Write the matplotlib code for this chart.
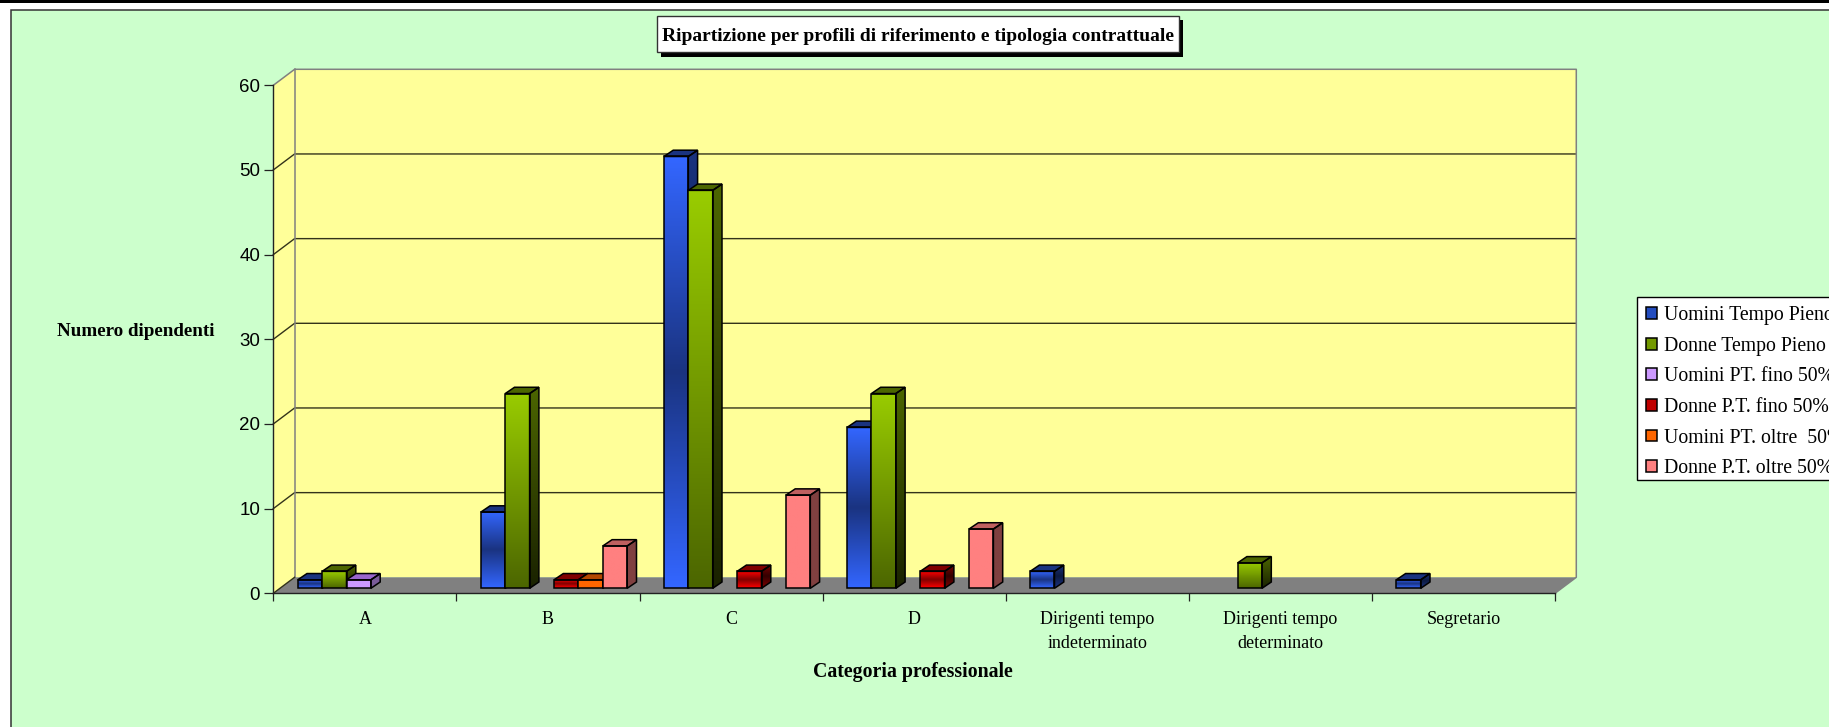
import matplotlib
matplotlib.use("Agg")
import matplotlib.pyplot as plt
import numpy as np
from matplotlib.colors import LinearSegmentedColormap
from matplotlib.patches import Patch, Polygon, Rectangle
from matplotlib.transforms import Affine2D

W, H = 1829, 727

categories = ["A", "B", "C", "D", "Dirigenti tempo\nindeterminato", "Dirigenti tempo\ndeterminato", "Segretario"]
series_names = ["Uomini Tempo Pieno", "Donne Tempo Pieno", "Uomini PT. fino 50%",
                "Donne P.T. fino 50%", "Uomini PT. oltre  50%", "Donne P.T. oltre 50%"]
uomini_tp = [1, 9, 51, 19, 2, 0, 1]
donne_tp = [2, 23, 47, 23, 0, 3, 0]
uomini_pt_fino = [1, 0, 0, 0, 0, 0, 0]
donne_pt_fino = [0, 1, 2, 2, 0, 0, 0]
uomini_pt_oltre = [0, 1, 0, 0, 0, 0, 0]
donne_pt_oltre = [0, 5, 11, 7, 0, 0, 0]
y_ticks = [0, 10, 20, 30, 40, 50, 60]

# colour stops top -> bottom for front, side; plus flat top face and legend swatch
front_stops = [["#3366FF", "#1A3380", "#3366FF"], ["#99CC00", "#4C6600"], ["#CC99FF", "#CC99FF"],
               ["#FF0000", "#800000", "#FF0000"], ["#FF6600", "#FF6600"], ["#FF8080", "#FF8080"]]
side_stops = [["#1A3380", "#0D1A40", "#1A3380"], ["#4C6600", "#1A2200"], ["#7A5C99", "#7A5C99"],
              ["#800000", "#330000", "#800000"], ["#803300", "#803300"], ["#804040", "#804040"]]
top_colors = ["#1A3380", "#4C6600", "#9966CC", "#800000", "#B34700", "#BF6060"]
legend_colors = ["#234DBF", "#739900", "#CC99FF", "#BF0000", "#FF6600", "#FF8080"]

plt.rcParams["font.family"] = ["Liberation Serif"]
fig = plt.figure(figsize=(W / 100, H / 100), dpi=100, facecolor="white")
px = Affine2D().scale(1 / W, -1 / H).translate(0, 1) + fig.transFigure

# chart area and the strip above it
fig.add_artist(Rectangle((11, 10), W, H, transform=px, fc="#CCFFCC", ec="#333333", lw=1.1, zorder=-2))
fig.add_artist(Rectangle((0, 0), W, 3, transform=px, fc="black", ec="none", zorder=-1))

x_left, x_right, y_zero, y_top = 273.3, 1555, 593.3, 85.3
ax = fig.add_axes([x_left / W, 1 - y_zero / H, (x_right - x_left) / W, (y_zero - y_top) / H])
ax.patch.set_visible(False)
n_cat = len(categories)
px_x = (x_right - x_left) / n_cat
px_y = (y_zero - y_top) / 60

# 3D wall / floor depth
wall_dx, wall_dy = 21.3 / px_x, 16 / px_y
ax.fill([0, wall_dx, n_cat + wall_dx, n_cat + wall_dx, wall_dx, 0],
        [0, wall_dy, wall_dy, 60 + wall_dy, 60 + wall_dy, 60],
        fc="#FFFF99", ec="none", clip_on=False, zorder=0.1)
ax.fill([0, n_cat, n_cat + wall_dx, wall_dx], [0, 0, wall_dy, wall_dy],
        fc="#808080", ec="none", clip_on=False, zorder=0.2)
for v in y_ticks[1:-1]:
    ax.plot([0, wall_dx, n_cat + wall_dx], [v, v + wall_dy, v + wall_dy], color="#33331A", lw=1.0,
            clip_on=False, zorder=0.3)
ax.plot([0, wall_dx, n_cat + wall_dx, n_cat + wall_dx, n_cat],
        [60, 60 + wall_dy, 60 + wall_dy, wall_dy, 0], color="#808080", lw=1.1, clip_on=False, zorder=0.4)
ax.plot([wall_dx, wall_dx], [wall_dy, 60 + wall_dy], color="#808080", lw=1.1, clip_on=False, zorder=0.4)
ax.plot([0, wall_dx], [0, wall_dy], color="#33331A", lw=1.0, clip_on=False, zorder=0.4)

# bars
slot = 24.4 / px_x
first = 24.4 / px_x
base = 5 / px_y
bar_dx, bar_dy = 9.3 / px_x, 6.3 / px_y
all_series = [uomini_tp, donne_tp, uomini_pt_fino, donne_pt_fino, uomini_pt_oltre, donne_pt_oltre]
gradient = np.linspace(0, 1, 128)[:, None]
z = 1.0
for c in range(n_cat):
    for s, values in enumerate(all_series):
        v = values[c]
        if v == 0:
            continue
        x0 = c + first + s * slot
        x1 = x0 + slot
        y0, y1 = base, base + v
        front_cmap = LinearSegmentedColormap.from_list(f"f{s}", front_stops[s])
        side_cmap = LinearSegmentedColormap.from_list(f"s{s}", side_stops[s])
        ax.imshow(gradient, cmap=front_cmap, extent=[x0, x1, y0, y1], aspect="auto", origin="upper",
                  clip_on=False, zorder=z, interpolation="bilinear")
        side_pts = [(x1, y0), (x1 + bar_dx, y0 + bar_dy), (x1 + bar_dx, y1 + bar_dy), (x1, y1)]
        im = ax.imshow(gradient, cmap=side_cmap, extent=[x1, x1 + bar_dx, y0, y1 + bar_dy], aspect="auto",
                       origin="upper", zorder=z, interpolation="bilinear")
        im.set_clip_box(None)
        im.set_clip_path(Polygon(side_pts, transform=ax.transData))
        top_pts = [(x0, y1), (x1, y1), (x1 + bar_dx, y1 + bar_dy), (x0 + bar_dx, y1 + bar_dy)]
        ax.add_patch(Polygon(top_pts, fc=top_colors[s], ec="black", lw=1.1, clip_on=False, zorder=z + 0.01))
        ax.add_patch(Polygon(side_pts, fc="none", ec="black", lw=1.1, clip_on=False, zorder=z + 0.01))
        ax.add_patch(Rectangle((x0, y0), slot, v, fc="none", ec="black", lw=1.1, clip_on=False, zorder=z + 0.01))
        z += 0.02

ax.set_xlim(0, n_cat)
ax.set_ylim(0, 60)
for side in ["top", "right"]:
    ax.spines[side].set_visible(False)
for side in ["left", "bottom"]:
    ax.spines[side].set_color("#222222")
    ax.spines[side].set_linewidth(1.0)
    ax.spines[side].set_zorder(3)
ax.set_yticks(y_ticks)
ax.set_yticklabels([str(v) for v in y_ticks], family="Liberation Sans", fontsize=13.5)
ax.tick_params(axis="y", length=6.5, width=0.9, color="#222222", pad=3)
ax.set_xticks(np.arange(n_cat + 1))
ax.set_xticklabels([])
ax.tick_params(axis="x", which="major", length=6, width=0.9, color="#222222")
ax.set_xticks(np.arange(n_cat) + 0.5, minor=True)
ax.set_xticklabels(categories, minor=True, fontsize=13, linespacing=1.55)
ax.tick_params(axis="x", which="minor", length=0, pad=12.5)

fig.text(136, 332, "Numero dipendenti", transform=px, ha="center", va="center", fontsize=13.7, fontweight="bold")
fig.text(913, 672, "Categoria professionale", transform=px, ha="center", va="center", fontsize=14.3, fontweight="bold")

# title box with its hard shadow
fig.add_artist(Rectangle((661, 20), 522, 36.5, transform=px, fc="black", ec="none", zorder=4))
fig.add_artist(Rectangle((657, 15.7), 522, 36.5, transform=px, fc="white", ec="#333333", lw=1.0, zorder=4.1))
fig.text(918, 36.5, "Ripartizione per profili di riferimento e tipologia contrattuale", transform=px,
         ha="center", va="center", fontsize=14, fontweight="bold", zorder=5)

# legend frame drawn apart so its bottom edge can sit tighter than borderpad allows
fig.add_artist(Rectangle((1636.7, 296.7), 300, 183.3, transform=px, fc="white", ec="black", lw=1.0, zorder=4.5))
handles = [Patch(fc=c, ec="black", lw=1.1) for c in legend_colors]
leg = fig.legend(handles, series_names, loc="upper left", bbox_to_anchor=(1636.7, 296.7), bbox_transform=px,
                 borderaxespad=0, frameon=False,
                 prop={"family": "Liberation Serif", "size": 14.2}, handlelength=0.55, handleheight=0.55,
                 handletextpad=0.35, labelspacing=0.59, borderpad=0.47)

fig.savefig("out.png", dpi=100)
